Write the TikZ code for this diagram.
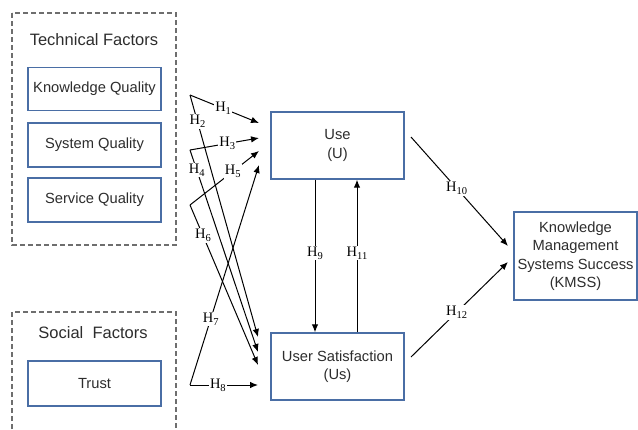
\documentclass[tikz,border=0pt]{standalone}
\usepackage{fontspec}
\setmainfont{Liberation Serif}
\newfontfamily\boxfont{Liberation Sans}
\usetikzlibrary{arrows.meta}
\definecolor{boxblue}{RGB}{74,110,165}
\definecolor{dashgray}{RGB}{110,110,110}
\definecolor{txtgray}{RGB}{45,45,45}
\newcommand{\hsub}[1]{H\raisebox{-3pt}{\fontsize{10.5}{11}\selectfont #1}}
\begin{document}
\begin{tikzpicture}[x=1pt,y=-1pt,
  factorbox/.style={draw=dashgray, line width=1.1pt, dash pattern=on 5pt off 3pt},
  itembox/.style={draw=boxblue, line width=1.4pt, fill=white, inner sep=0pt, align=center, font=\boxfont\fontsize{14.7}{18.5}\selectfont, text=txtgray},
  title/.style={font=\boxfont\fontsize{16.5}{20}\selectfont, text=txtgray, inner sep=0pt},
  arr/.style={line width=1pt, -{Latex[length=8pt,width=6.5pt]}},
  hyp/.style={fill=white, inner sep=1pt, font=\fontsize{14.5}{17}\selectfont}
]
\useasboundingbox (0,0) rectangle (638,429);
% factor groups
\draw[factorbox] (12,13) rectangle (176,245);
\draw[factorbox] (12,429) -- (12,312) -- (176,312) -- (176,429);
\node[title] (tft) at (94,40) {Technical Factors};
\node[title] (sft) at (93,333) {Social\ \ Factors};
% boxes
\node[itembox, minimum width=133pt, minimum height=43pt] (kq) at (94.5,89) {Knowledge Quality};
\node[itembox, minimum width=133pt, minimum height=44pt] (sysq) at (94.5,145) {System Quality};
\node[itembox, minimum width=133pt, minimum height=44pt] (servq) at (94.5,200) {Service Quality};
\node[itembox, minimum width=133pt, minimum height=45pt] (trust) at (94.5,383.5) {Trust};
\node[itembox, minimum width=133pt, minimum height=67pt] (use) at (337.5,145.5) {Use\\(U)};
\node[itembox, minimum width=133pt, minimum height=67pt] (us) at (337.5,366.5) {User Satisfaction\\(Us)};
\node[itembox, minimum width=123pt, minimum height=88pt] (kmss) at (575.5,256) {Knowledge\\Management\\Systems Success\\(KMSS)};
% connector points
\coordinate (c1) at (190,95);
\coordinate (c2) at (190,150);
\coordinate (c3) at (190,205);
\coordinate (c4) at (190,385);
\coordinate (t1) at (259,123);
\coordinate (t3) at (259,138);
\coordinate (t5) at (259,151);
\coordinate (t7) at (259,165);
\coordinate (t2) at (258,337);
\coordinate (t4) at (258,352);
\coordinate (t6) at (258,365);
\coordinate (t8) at (258,385);
\coordinate (s10) at (411,137);
\coordinate (t10) at (508,246);
\coordinate (s12) at (411,357);
\coordinate (t12) at (508,262);
% hypotheses
\draw[arr] (c1) -- node[hyp,pos=0.11] (h2) {\hsub{2}} (t2);
\draw[arr] (c2) -- node[hyp,pos=0.1] (h4) {\hsub{4}} (t4);
\draw[arr] (c3) -- node[hyp,pos=0.19] (h6) {\hsub{6}} (t6);
\draw[arr] (c4) -- node[hyp,pos=0.3] (h7) {\hsub{7}} (t7);
\draw[arr] (c1) -- node[hyp,pos=0.48] (h1) {\hsub{1}} (t1);
\draw[arr] (c2) -- node[hyp,pos=0.54] (h3) {\hsub{3}} (t3);
\draw[arr] (c3) -- node[hyp,pos=0.62] (h5) {\hsub{5}} (t5);
\draw[arr] (c4) -- node[hyp,pos=0.41] (h8) {\hsub{8}} (t8);
\draw[arr] ([xshift=-22.5pt]use.south) -- node[hyp,pos=0.48] (h9) {\hsub{9}} ([xshift=-22.5pt]us.north);
\draw[arr] ([xshift=19.5pt]us.north) -- node[hyp,pos=0.52] (h11) {\hsub{11}} ([xshift=19.5pt]use.south);
\draw[arr] (s10) -- node[hyp,pos=0.47] (h10) {\hsub{10}} (t10);
\draw[arr] (s12) -- node[hyp,pos=0.47] (h12) {\hsub{12}} (t12);
\end{tikzpicture}
\end{document}
